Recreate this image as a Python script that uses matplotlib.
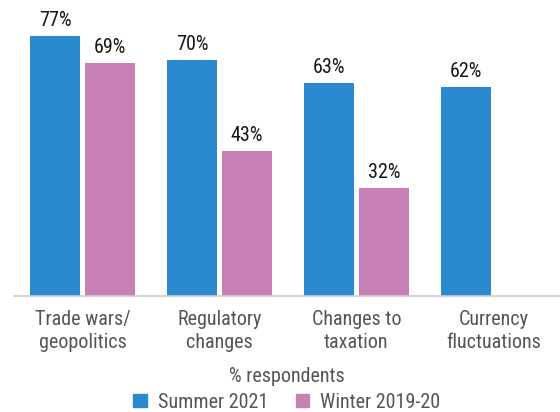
import numpy as np
import matplotlib
matplotlib.use("Agg")
import matplotlib.pyplot as plt
from matplotlib.patches import Patch

# narrow face first, condensed DejaVu as the fallback
plt.rcParams['font.family'] = ['Roboto Condensed', 'Archivo Narrow', 'DejaVu Sans']
plt.rcParams['font.stretch'] = 'condensed'

categories = ["Trade wars/\ngeopolitics", "Regulatory\nchanges", "Changes to\ntaxation", "Currency\nfluctuations"]
summer_2021 = [77, 70, 63, 62]
winter_2019 = [69, 43, 32, None]
series_names = ["Summer 2021", "Winter 2019-20"]

BLUE = "#2B89CF"
PINK = "#C880B4"
FS = 14.5

fig = plt.figure(figsize=(5.6, 4.12), dpi=100)
# baseline sits at y=296 px, left edge at x=14 px
ax = fig.add_axes([14 / 560, 116 / 412, 546 / 560, 270 / 412])

x = np.arange(len(categories))
w = 50 / 137
off = 27.5 / 137

for i, (s, wv) in enumerate(zip(summer_2021, winter_2019)):
    ax.bar(x[i] - off, s, width=w, color=BLUE)
    ax.text(x[i] - off, s + 1.8, f"{s}%", ha="center", va="bottom",
            fontsize=FS, color="#161616", clip_on=False)
    if wv is not None:
        ax.bar(x[i] + off, wv, width=w, color=PINK)
        ax.text(x[i] + off, wv + 1.8, f"{wv}%", ha="center", va="bottom",
                fontsize=FS, color="#161616", clip_on=False)

ax.set_xlim((14 - 82.5) / 137, (560 - 82.5) / 137)
ax.set_ylim(0, 80)
ax.set_xticks(x)
ax.set_xticklabels(categories, fontsize=FS, color="#555555", linespacing=1.25)
ax.tick_params(axis="x", length=0, pad=10)
ax.set_yticks([])
for side in ["top", "right", "left"]:
    ax.spines[side].set_visible(False)
ax.spines["bottom"].set_color("#cccccc")
ax.spines["bottom"].set_linewidth(1.2)

# axis title and legend are centred on the plot area, not the figure
cx = 287 / 560
fig.text(cx, 1 - 377 / 412, "% respondents", ha="center", va="center",
         fontsize=FS, color="#555555")

handles = [Patch(color=BLUE), Patch(color=PINK)]
fig.legend(handles, series_names, loc="center", bbox_to_anchor=(cx, 1 - 402 / 412),
           ncol=2, frameon=False, fontsize=FS, labelcolor="#555555",
           handlelength=0.65, handleheight=0.65, handletextpad=0.55, columnspacing=1.4,
           borderpad=0, borderaxespad=0)

fig.savefig("out.png", dpi=100)
